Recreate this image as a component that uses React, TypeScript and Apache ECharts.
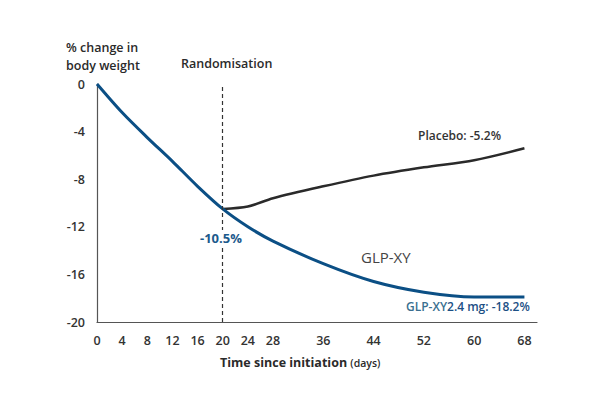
import React, { useEffect, useRef } from "react";
import * as echarts from "echarts";

const xTicks = [0, 4, 8, 12, 16, 20, 24, 28, 36, 44, 52, 60, 68];
const glpDays = [0, 4, 8, 12, 16, 20, 24, 28, 36, 44, 52, 60, 68];
const glpValues = [0, -2.4, -4.5, -6.5, -8.6, -10.5, -12.0, -13.2, -15.1, -16.6, -17.5, -17.9, -17.9];
const placeboDays = [20, 24, 28, 36, 44, 52, 60, 68];
const placeboValues = [-10.5, -10.3, -9.6, -8.6, -7.7, -7.0, -6.4, -5.4];
const randomisationDay = 20;

const FONT = "'Open Sans', 'Noto Sans', sans-serif";

export default function App() {
  const ref = useRef<HTMLDivElement>(null);
  useEffect(() => {
    if (!ref.current) return;
    const chart = echarts.init(ref.current, null, { renderer: "svg" });
    chart.setOption({
      animation: false,
      backgroundColor: "#ffffff",
      textStyle: { fontFamily: FONT },
      grid: { left: 97, right: 63, top: 84, bottom: 72, containLabel: false },
      xAxis: {
        type: "value",
        min: 0,
        max: 70,
        interval: 4,
        axisLine: { show: true, onZero: false, lineStyle: { color: "#555", width: 1.2 } },
        axisTick: { show: false },
        splitLine: { show: false },
        axisLabel: {
          margin: 12,
          color: "#333",
          fontSize: 12.5,
          fontWeight: 600,
          fontFamily: FONT,
          showMaxLabel: false,
          formatter: (v: number) => (xTicks.includes(v) ? String(v) : ""),
        },
      },
      yAxis: {
        type: "value",
        min: -20,
        max: 0,
        interval: 4,
        axisLine: { show: true, onZero: false, lineStyle: { color: "#555", width: 1.2 } },
        axisTick: { show: false },
        splitLine: { show: false },
        axisLabel: {
          margin: 12,
          color: "#333",
          fontSize: 12.5,
          fontWeight: 600,
          fontFamily: FONT,
        },
      },
      series: [
        {
          name: "GLP-XY",
          type: "line",
          data: glpDays.map((d, i) => [d, glpValues[i]]),
          smooth: 0.3,
          showSymbol: false,
          lineStyle: { color: "#0b4f85", width: 3 },
          z: 3,
          markLine: {
            silent: true,
            symbol: "none",
            label: { show: false },
            lineStyle: { color: "#333", type: [4, 3], width: 1.2 },
            data: [{ xAxis: randomisationDay }],
          },
        },
        {
          name: "Placebo",
          type: "line",
          data: placeboDays.map((d, i) => [d, placeboValues[i]]),
          smooth: 0.3,
          showSymbol: false,
          lineStyle: { color: "#2a2a2a", width: 2.5 },
          z: 2,
        },
      ],
      graphic: [
        {
          type: "text",
          left: 66,
          top: 38,
          style: {
            text: "% change in\nbody weight",
            fill: "#2a2a2a",
            font: `600 12.5px ${FONT}`,
            lineHeight: 18,
          },
        },
        {
          type: "text",
          left: 181,
          top: 57,
          style: { text: "Randomisation", fill: "#2a2a2a", font: `600 12.5px ${FONT}` },
        },
        {
          type: "text",
          left: 418,
          top: 129,
          style: { text: "Placebo: -5.2%", fill: "#333", font: `600 12px ${FONT}` },
        },
        {
          type: "text",
          left: 199,
          top: 230,
          z: 10,
          style: {
            text: "-10.5%",
            fill: "#1c5a8c",
            font: `700 13px ${FONT}`,
            backgroundColor: "#ffffff",
            padding: [1, 1],
          },
        },
        {
          type: "text",
          left: 361,
          top: 249,
          style: { text: "GLP-XY", fill: "#444", font: `500 15px ${FONT}` },
        },
        {
          type: "text",
          left: 406,
          top: 300,
          style: {
            rich: {
              a: { fill: "#3a6f8f", font: `600 12px ${FONT}` },
              b: { fill: "#1c4f85", font: `600 12px ${FONT}` },
            },
            text: "{a|GLP-XY}{b|2.4 mg: -18.2%}",
          },
        },
        {
          type: "text",
          left: 220,
          top: 356,
          style: {
            rich: {
              a: { fill: "#2a2a2a", font: `700 12.5px ${FONT}` },
              b: { fill: "#2a2a2a", font: `600 10.5px ${FONT}` },
            },
            text: "{a|Time since initiation }{b|(days)}",
          },
        },
      ],
    });
    return () => chart.dispose();
  }, []);
  return (
    <div
      ref={ref}
      style={{ position: "absolute", left: 0, top: 0, width: 600, height: 394 }}
    />
  );
}
